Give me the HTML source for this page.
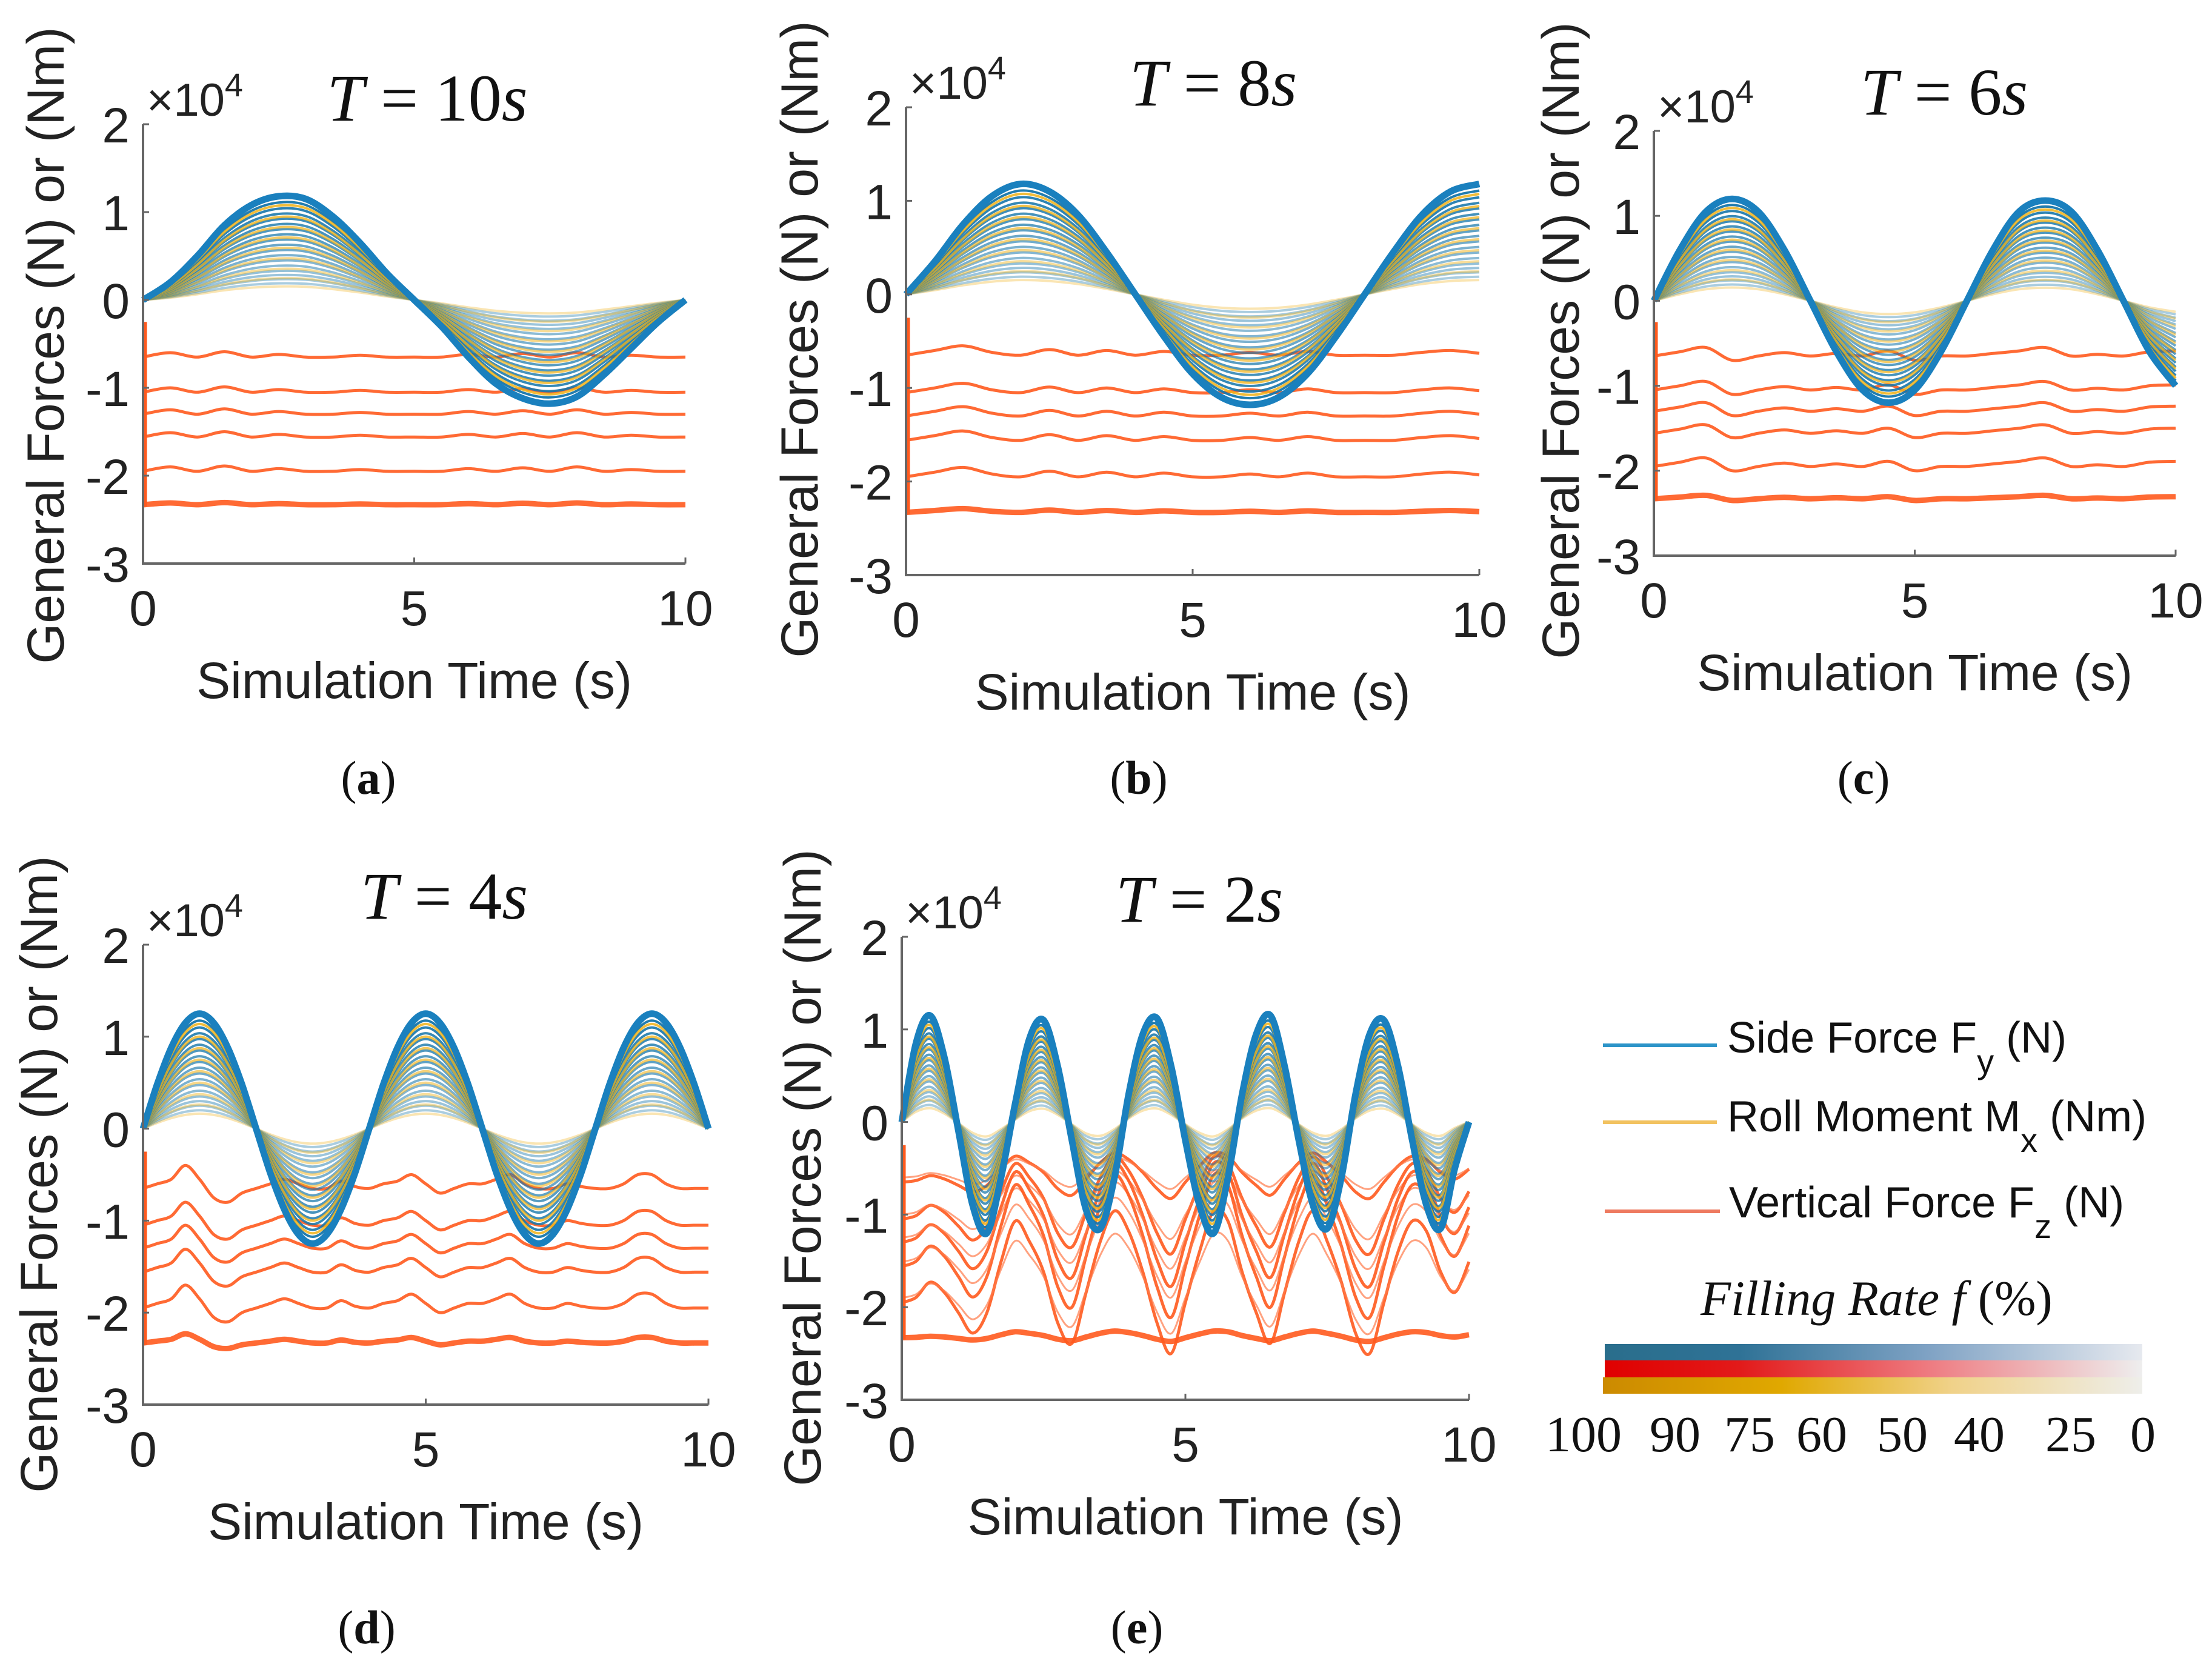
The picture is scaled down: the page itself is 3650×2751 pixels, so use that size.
<!DOCTYPE html>
<html><head><meta charset="utf-8"><style>
html,body{margin:0;padding:0;background:#fff;}
svg{display:block;}
text{font-family:"Liberation Sans",sans-serif;}
.serif{font-family:"Liberation Serif",serif;}
</style></head>
<body>
<svg id="fig" xmlns="http://www.w3.org/2000/svg" width="3650" height="2751" viewBox="0 0 3650 2751">
<defs>
<linearGradient id="gBlue" x1="0" x2="1" y1="0" y2="0"><stop offset="0" stop-color="#2a6e8c"/><stop offset="0.25" stop-color="#2f7296"/><stop offset="0.6" stop-color="#7fa2c4"/><stop offset="1" stop-color="#e6e9ef"/></linearGradient>
<linearGradient id="gRed" x1="0" x2="1" y1="0" y2="0"><stop offset="0" stop-color="#e00000"/><stop offset="0.25" stop-color="#e21a1a"/><stop offset="0.6" stop-color="#ee7a80"/><stop offset="1" stop-color="#eeeeee"/></linearGradient>
<linearGradient id="gGold" x1="0" x2="1" y1="0" y2="0"><stop offset="0" stop-color="#cc8a00"/><stop offset="0.33" stop-color="#e0a800"/><stop offset="0.65" stop-color="#f0d28a"/><stop offset="1" stop-color="#eeeeea"/></linearGradient>
</defs>
<g id="plots"></g>
<g id="legend">
  <line x1="2645" y1="1725" x2="2833" y2="1725" stroke="#2c94c8" stroke-width="6"/>
  <text x="2850" y="1737" font-size="72" fill="#111">Side Force F<tspan font-size="56" dy="34">y</tspan><tspan dy="-34"> (N)</tspan></text>
  <line x1="2645" y1="1852" x2="2833" y2="1852" stroke="#f2c260" stroke-width="6"/>
  <text x="2850" y="1867" font-size="72" fill="#111">Roll Moment M<tspan font-size="56" dy="34">x</tspan><tspan dy="-34"> (Nm)</tspan></text>
  <line x1="2648" y1="1999" x2="2838" y2="1999" stroke="#ee7a60" stroke-width="6"/>
  <text x="2853" y="2009" font-size="72" fill="#111">Vertical Force F<tspan font-size="56" dy="34">z</tspan><tspan dy="-34"> (N)</tspan></text>
  <text class="serif" x="2806" y="2170" font-size="82" font-style="italic" fill="#111">Filling Rate f <tspan font-style="normal">(%)</tspan></text>
  <rect x="2648" y="2218" width="887" height="27" fill="url(#gBlue)"/>
  <rect x="2648" y="2245" width="887" height="28" fill="url(#gRed)"/>
  <rect x="2645" y="2273" width="890" height="27" fill="url(#gGold)"/>
  <g id="cbticks"></g>
</g>
</svg>
<script>
// ---- data ----
const fillRateLabels = ["100","90","75","60","50","40","25","0"];
const xTickValues = [0,5,10];
const yTickValues = [2,1,0,-1,-2,-3];
const periodLabels = ["10","8","6","4","2"];
const panelLetters = ["a","b","c","d","e"];
const timeHalf = [0,0.5,1,1.5,2,2.5,3,3.5,4,4.5,5,5.5,6,6.5,7,7.5,8,8.5,9,9.5,10];
const timeQuarter = [0,0.25,0.5,0.75,1,1.25,1.5,1.75,2,2.25,2.5,2.75,3,3.25,3.5,3.75,4,4.25,4.5,4.75,5,5.25,5.5,5.75,6,6.25,6.5,6.75,7,7.25,7.5,7.75,8,8.25,8.5,8.75,9,9.25,9.5,9.75,10];
const envA = [0,0.2,0.5,0.85,1.08,1.18,1.15,0.95,0.65,0.3,0,-0.3,-0.65,-0.95,-1.12,-1.18,-1.1,-0.85,-0.55,-0.25,0];
const envB = [0,0.35,0.75,1.05,1.18,1.1,0.85,0.45,0,-0.45,-0.85,-1.1,-1.18,-1.1,-0.85,-0.45,0,0.45,0.85,1.1,1.18];
const envC = [0,0.6,1.05,1.2,1.05,0.6,0,-0.6,-1.05,-1.2,-1.05,-0.6,0,0.6,1.05,1.18,1.05,0.6,0,-0.6,-1.0];
const envD = [0,0.48,0.88,1.15,1.25,1.15,0.88,0.48,0,-0.48,-0.88,-1.15,-1.25,-1.15,-0.88,-0.48,0,0.48,0.88,1.15,1.25,1.15,0.88,0.48,0,-0.48,-0.88,-1.15,-1.25,-1.15,-0.88,-0.48,0,0.48,0.88,1.15,1.25,1.15,0.88,0.48,0];
const envE = [0,0.85,1.15,0.7,-0.1,-0.9,-1.2,-0.6,0.2,0.9,1.1,0.6,-0.2,-0.95,-1.15,-0.6,0.3,0.95,1.12,0.6,-0.2,-0.9,-1.2,-0.6,0.3,0.95,1.15,0.6,-0.2,-0.9,-1.15,-0.6,0.3,0.95,1.1,0.6,-0.2,-0.9,-1.15,-0.5,0];
const orangeLevels = [-0.65,-1.05,-1.30,-1.56,-1.95,-2.33];
const rippleA = [0,0.05,0,0.06,0,0.03,0,0,0.02,0,0,0,0.03,0,0.04,0,0.05,0,0.02,0,0];
const rippleB = [0,0.05,0.1,0.03,0,0.06,0,0.05,0,0.04,0,0,0.03,0,0.04,0,0,0,0.03,0.05,0.02];
const rippleC = [0,0.05,0.1,-0.05,0,0.04,0,0.03,0,0.06,-0.05,0,0,0.03,0.06,0.1,0,0.02,0,0.05,0.06];
const rippleD = [0,0.05,0.1,0.25,0.1,-0.1,-0.15,-0.05,0,0.05,0.1,0.05,0,0,0.08,0.02,0,0.05,0.08,0.15,0.05,-0.05,0,0.05,0.05,0.1,0.15,0.05,0,0,0.05,0.02,0,0,0.05,0.15,0.15,0.05,0,0,0];
const rippleE = [0,0.05,0.2,0.1,-0.1,-0.3,-0.1,0.4,0.8,0.6,0.3,-0.2,-0.4,0.1,0.6,0.9,0.7,0.3,-0.2,-0.5,0,0.5,0.9,0.8,0.3,-0.1,-0.4,0.1,0.6,0.9,0.6,0.2,-0.3,-0.5,0,0.5,0.8,0.7,0.3,0.1,0.4];
const rippleScaleE = [0.35,0.75,0.95,1.1,1.1,0.08];
const fillFactors = [1,0.94,0.88,0.83,0.78,0.73,0.68,0.63,0.58,0.53,0.48,0.43,0.38,0.33,0.28,0.24,0.2,0.16];
// ---- layout ----
const layout = [
 {L:236,R:1131,T:205,B:930,ylx:75,yly:570,titleX:705,titleY:195,labX:608,labY:1310,env:envA,time:timeHalf,rip:rippleA},
 {L:1495,R:2441,T:177,B:949,ylx:1319,yly:560,titleX:2002,titleY:170,labX:1879,labY:1310,env:envB,time:timeHalf,rip:rippleB},
 {L:2729,R:3590,T:216,B:917,ylx:2575,yly:562,titleX:3208,titleY:185,labX:3075,labY:1310,env:envC,time:timeHalf,rip:rippleC},
 {L:236,R:1169,T:1559,B:2318,ylx:64,yly:1938,titleX:733,titleY:1512,labX:605,labY:2712,env:envD,time:timeQuarter,rip:rippleD},
 {L:1488,R:2424,T:1546,B:2310,ylx:1324,yly:1927,titleX:1979,titleY:1517,labX:1876,labY:2712,env:envE,time:timeQuarter,rip:rippleE}
];
const NS="http://www.w3.org/2000/svg";
function mk(tag,attrs,parent){const e=document.createElementNS(NS,tag);for(const k in attrs)e.setAttribute(k,attrs[k]);if(parent)parent.appendChild(e);return e;}
function smooth(pts){let d="M"+pts[0][0].toFixed(1)+","+pts[0][1].toFixed(1);
 for(let i=0;i<pts.length-1;i++){const p0=pts[Math.max(0,i-1)],p1=pts[i],p2=pts[i+1],p3=pts[Math.min(pts.length-1,i+2)];
  const c1=[p1[0]+(p2[0]-p0[0])/6,p1[1]+(p2[1]-p0[1])/6],c2=[p2[0]-(p3[0]-p1[0])/6,p2[1]-(p3[1]-p1[1])/6];
  d+="C"+c1[0].toFixed(1)+","+c1[1].toFixed(1)+" "+c2[0].toFixed(1)+","+c2[1].toFixed(1)+" "+p2[0].toFixed(1)+","+p2[1].toFixed(1);}
 return d;}
const root=document.getElementById('plots');
layout.forEach((p,pi)=>{
 const g=mk('g',{},root);
 
 
 const xs=t=>p.L+(t/10)*(p.R-p.L);
 const ys=v=>p.B-((v+3)/5)*(p.B-p.T);
 orangeLevels.forEach((lv,li)=>{
  const sc = pi===4 ? rippleScaleE[li] : (li===5?0.4:1);
  const pts=p.time.map((t,i)=>[xs(t),ys(lv+p.rip[i]*sc)]);
  const path=mk('path',{d:smooth(pts),fill:'none',stroke:'#ff5a1e','stroke-width':li===5?9:5,'stroke-opacity':0.9},g);
  
  
  if(pi===4 && li<5){
   const pts2=p.time.map((t,i)=>[xs(t),ys(lv+p.rip[i]*sc*0.7+0.05)]);
   const p2=mk('path',{d:smooth(pts2),fill:'none',stroke:'#ff7a4a','stroke-width':3,'stroke-opacity':0.7},g);
   
   
  }
 });
 const vline=mk('line',{x1:xs(0)+3,x2:xs(0)+3,y1:ys(-0.25),y2:ys(-2.35),stroke:'#ff5a1e','stroke-width':7},g);
 
 
 for(let k=fillFactors.length-1;k>=1;k--){
  const f=fillFactors[k];
  const op=0.25+0.75*f;
  const ptsB=p.time.map((t,i)=>[xs(t),ys(p.env[i]*f)]);
  const pb=mk('path',{d:smooth(ptsB),fill:'none',stroke:'#1877ab','stroke-width':4,'stroke-opacity':op},g);
  
  
  if(k%2===1){
   const fy=f-0.03;
   const ptsY=p.time.map((t,i)=>[xs(t),ys(p.env[i]*fy)]);
   const py=mk('path',{d:smooth(ptsY),fill:'none',stroke:'#f0b21a','stroke-width':4,'stroke-opacity':op*0.9},g);
   
   
  }
 }
 const ptsO=p.time.map((t,i)=>[xs(t),ys(p.env[i]*fillFactors[0])]);
 const po=mk('path',{d:smooth(ptsO),fill:'none',stroke:'#1a80be','stroke-width':11},g);
 
 
 const ax=mk('path',{d:`M${p.L},${p.T}V${p.B}H${p.R}`,fill:'none',stroke:'#666','stroke-width':4},g);
 
 
 xTickValues.forEach(v=>{
  mk('line',{x1:xs(v),x2:xs(v),y1:p.B,y2:p.B-10,stroke:'#666','stroke-width':3},g);
  const t=mk('text',{x:xs(v),y:p.B+102,'font-size':82,'text-anchor':'middle',fill:'#222'},g);
  t.textContent=v;
  
  
 });
 yTickValues.forEach(v=>{
  mk('line',{x1:p.L,x2:p.L+10,y1:ys(v),y2:ys(v),stroke:'#666','stroke-width':3},g);
  const t=mk('text',{x:p.L-22,y:ys(v)+30,'font-size':82,'text-anchor':'end',fill:'#222'},g);
  t.textContent=v;
  
  
 });
 const ex=mk('text',{x:p.L+6,y:p.T-14,'font-size':76,fill:'#222'},g);
 ex.innerHTML='×10<tspan font-size="54" dy="-32">4</tspan>';
 
 
 const xt=mk('text',{x:(p.L+p.R)/2,y:p.B+222,'font-size':84,'text-anchor':'middle',fill:'#222'},g);
 xt.textContent='Simulation Time (s)';
 
 
 const yt=mk('text',{x:0,y:0,'font-size':86,'text-anchor':'middle',fill:'#222',transform:`translate(${p.ylx+30},${p.yly}) rotate(-90)`},g);
 yt.textContent='General Forces (N) or (Nm)';
 
 
 const tt=mk('text',{x:p.titleX,y:p.titleY+4,'font-size':110,'text-anchor':'middle',fill:'#111','class':'serif'},g);
 tt.innerHTML='<tspan font-style="italic">T</tspan> = '+periodLabels[pi]+'<tspan font-style="italic">s</tspan>';
 
 
 const lb=mk('text',{x:p.labX,y:p.labY,'font-size':78,'text-anchor':'middle',fill:'#111','class':'serif'},g);
 lb.innerHTML='(<tspan font-weight="bold">'+panelLetters[pi]+'</tspan>)';
 
 
});
const cbx=[2613,2764,2887,3006,3139,3266,3417,3536];
const cbg=document.getElementById('cbticks');
fillRateLabels.forEach((s,i)=>{
 const t=mk('text',{x:cbx[i],y:2395,'font-size':84,'text-anchor':'middle',fill:'#111','class':'serif'},cbg);
 t.textContent=s;
 
 
});
</script>
</body></html>
